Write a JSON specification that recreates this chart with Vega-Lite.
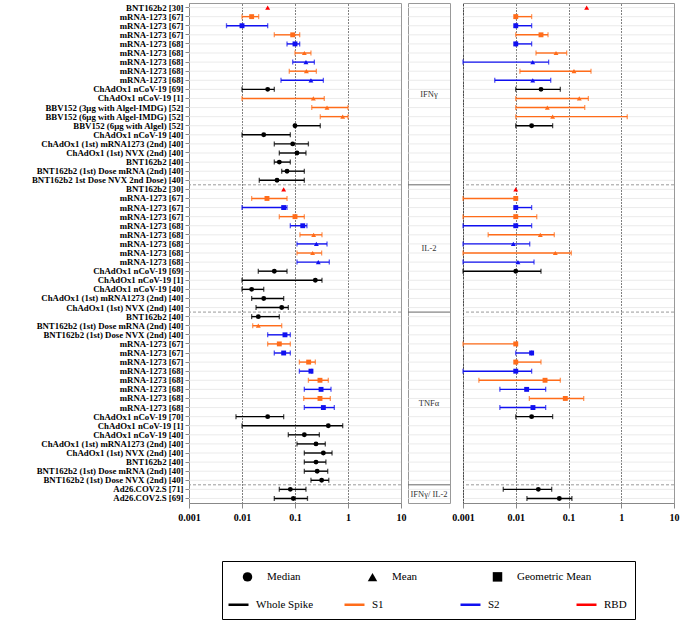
{
"$schema": "https://vega.github.io/schema/vega-lite/v6.json",
"padding": {"left": 2, "top": 2, "right": 0, "bottom": 0},
"background": "white",
"config": {
  "view": {"stroke": "#999"},
  "concat": {"spacing": 0},
  "font": "Liberation Serif",
  "range": {"category": ["#000000", "#FF6C1A", "#1010F0", "#FF0000"], "symbol": ["circle", "triangle-up", "square"]}
},
"datasets": {"d": [
{"k":"01 BNT162b2 [30]","sec":"IFNγ","ag":"RBD","st":"Mean","le":0.0305,"re":0.221},
{"k":"02 mRNA-1273 [67]","sec":"IFNγ","ag":"S1","st":"Geometric Mean","le":0.0152,"ll":0.01,"lh":0.0206,"re":0.01,"rl":0.01,"rh":0.02},
{"k":"03 mRNA-1273 [67]","sec":"IFNγ","ag":"S2","st":"Geometric Mean","le":0.01,"ll":0.0051,"lh":0.0305,"re":0.01,"rl":0.01,"rh":0.02},
{"k":"04 mRNA-1273 [67]","sec":"IFNγ","ag":"S1","st":"Geometric Mean","le":0.0905,"ll":0.0407,"lh":0.1225,"re":0.0301,"rl":0.01,"rh":0.0409},
{"k":"05 mRNA-1273 [68]","sec":"IFNγ","ag":"S2","st":"Geometric Mean","le":0.1,"ll":0.0707,"lh":0.1225,"re":0.01,"rl":0.01,"rh":0.02},
{"k":"06 mRNA-1273 [68]","sec":"IFNγ","ag":"S1","st":"Mean","le":0.15,"ll":0.1,"lh":0.2,"re":0.058,"rl":0.0242,"rh":0.0923},
{"k":"07 mRNA-1273 [68]","sec":"IFNγ","ag":"S2","st":"Mean","le":0.161,"ll":0.0905,"lh":0.232,"re":0.021,"rl":0.001,"rh":0.042},
{"k":"08 mRNA-1273 [68]","sec":"IFNγ","ag":"S1","st":"Mean","le":0.164,"ll":0.078,"lh":0.253,"re":0.127,"rl":0.012,"rh":0.267},
{"k":"09 mRNA-1273 [68]","sec":"IFNγ","ag":"S2","st":"Mean","le":0.2,"ll":0.0544,"lh":0.343,"re":0.021,"rl":0.004,"rh":0.046},
{"k":"10 ChAdOx1 nCoV-19 [69]","sec":"IFNγ","ag":"Whole Spike","st":"Median","le":0.0305,"ll":0.01,"lh":0.0407,"re":0.0301,"rl":0.01,"rh":0.07},
{"k":"11 ChAdOx1 nCoV-19 [1]","sec":"IFNγ","ag":"S1","st":"Mean","le":0.222,"ll":0.01,"lh":0.357,"re":0.16,"rl":0.01,"rh":0.238},
{"k":"12 BBV152 (3µg with Algel-IMDG) [52]","sec":"IFNγ","ag":"S1","st":"Mean","le":0.402,"ll":0.207,"lh":1.0,"re":0.0397,"rl":0.01,"rh":0.203},
{"k":"13 BBV152 (6µg with Algel-IMDG) [52]","sec":"IFNγ","ag":"S1","st":"Mean","le":0.794,"ll":0.3,"lh":1.0,"re":0.05,"rl":0.01,"rh":1.3},
{"k":"14 BBV152 (6µg with Algel) [52]","sec":"IFNγ","ag":"Whole Spike","st":"Median","le":0.1,"ll":0.1,"lh":0.3,"re":0.02,"rl":0.01,"rh":0.05},
{"k":"15 ChAdOx1 nCoV-19 [40]","sec":"IFNγ","ag":"Whole Spike","st":"Median","le":0.0257,"ll":0.01,"lh":0.0816},
{"k":"16 ChAdOx1 (1st) mRNA1273 (2nd) [40]","sec":"IFNγ","ag":"Whole Spike","st":"Median","le":0.0905,"ll":0.0407,"lh":0.179},
{"k":"17 ChAdOx1 (1st) NVX (2nd) [40]","sec":"IFNγ","ag":"Whole Spike","st":"Median","le":0.109,"ll":0.0506,"lh":0.161},
{"k":"18 BNT162b2 [40]","sec":"IFNγ","ag":"Whole Spike","st":"Median","le":0.0506,"ll":0.0407,"lh":0.0816},
{"k":"19 BNT162b2 (1st) Dose mRNA (2nd) [40]","sec":"IFNγ","ag":"Whole Spike","st":"Median","le":0.0707,"ll":0.0561,"lh":0.15},
{"k":"20 BNT162b2 1st Dose NVX 2nd Dose) [40]","sec":"IFNγ","ag":"Whole Spike","st":"Median","le":0.0458,"ll":0.0212,"lh":0.15},
{"k":"21 BNT162b2 [30]","sec":"IL-2","ag":"RBD","st":"Mean","le":0.0611,"re":0.01},
{"k":"22 mRNA-1273 [67]","sec":"IL-2","ag":"S1","st":"Geometric Mean","le":0.0296,"ll":0.0152,"lh":0.0707,"re":0.01,"rl":0.001,"rh":0.01},
{"k":"23 mRNA-1273 [67]","sec":"IL-2","ag":"S2","st":"Geometric Mean","le":0.0611,"ll":0.01,"lh":0.0707,"re":0.01,"rl":0.01,"rh":0.02},
{"k":"24 mRNA-1273 [67]","sec":"IL-2","ag":"S1","st":"Geometric Mean","le":0.1,"ll":0.0506,"lh":0.15,"re":0.01,"rl":0.001,"rh":0.025},
{"k":"25 mRNA-1273 [68]","sec":"IL-2","ag":"S2","st":"Geometric Mean","le":0.14,"ll":0.0816,"lh":0.168,"re":0.01,"rl":0.001,"rh":0.02},
{"k":"26 mRNA-1273 [68]","sec":"IL-2","ag":"S1","st":"Mean","le":0.225,"ll":0.124,"lh":0.323,"re":0.0292,"rl":0.003,"rh":0.0538},
{"k":"27 mRNA-1273 [68]","sec":"IL-2","ag":"S2","st":"Mean","le":0.253,"ll":0.109,"lh":0.402,"re":0.009,"rl":0.001,"rh":0.0184},
{"k":"28 mRNA-1273 [68]","sec":"IL-2","ag":"S1","st":"Mean","le":0.215,"ll":0.109,"lh":0.318,"re":0.0562,"rl":0.001,"rh":0.113},
{"k":"29 mRNA-1273 [68]","sec":"IL-2","ag":"S2","st":"Mean","le":0.275,"ll":0.109,"lh":0.444,"re":0.011,"rl":0.001,"rh":0.0222},
{"k":"30 ChAdOx1 nCoV-19 [69]","sec":"IL-2","ag":"Whole Spike","st":"Median","le":0.0407,"ll":0.0203,"lh":0.0707,"re":0.01,"rl":0.001,"rh":0.0301},
{"k":"31 ChAdOx1 nCoV-19 [1]","sec":"IL-2","ag":"Whole Spike","st":"Median","le":0.242,"ll":0.01,"lh":0.323},
{"k":"32 ChAdOx1 nCoV-19 [40]","sec":"IL-2","ag":"Whole Spike","st":"Median","le":0.0152,"ll":0.01,"lh":0.0257},
{"k":"33 ChAdOx1 (1st) mRNA1273 (2nd) [40]","sec":"IL-2","ag":"Whole Spike","st":"Median","le":0.0257,"ll":0.0152,"lh":0.0611},
{"k":"34 ChAdOx1 (1st) NVX (2nd) [40]","sec":"IL-2","ag":"Whole Spike","st":"Median","le":0.0561,"ll":0.0184,"lh":0.0748},
{"k":"35 BNT162b2 [40]","sec":"TNFα","ag":"Whole Spike","st":"Median","le":0.0203,"ll":0.0152,"lh":0.0506},
{"k":"36 BNT162b2 (1st) Dose mRNA (2nd) [40]","sec":"TNFα","ag":"S1","st":"Mean","le":0.0203,"ll":0.0159,"lh":0.0561},
{"k":"37 BNT162b2 (1st) Dose NVX (2nd) [40]","sec":"TNFα","ag":"S2","st":"Geometric Mean","le":0.0647,"ll":0.0305,"lh":0.0816},
{"k":"38 mRNA-1273 [67]","sec":"TNFα","ag":"S1","st":"Geometric Mean","le":0.0506,"ll":0.0305,"lh":0.0816,"re":0.01,"rl":0.001,"rh":0.0107},
{"k":"39 mRNA-1273 [67]","sec":"TNFα","ag":"S2","st":"Geometric Mean","le":0.0611,"ll":0.0407,"lh":0.0816,"re":0.02,"rl":0.01,"rh":0.02},
{"k":"40 mRNA-1273 [67]","sec":"TNFα","ag":"S1","st":"Geometric Mean","le":0.181,"ll":0.121,"lh":0.242,"re":0.01,"rl":0.01,"rh":0.0301},
{"k":"41 mRNA-1273 [68]","sec":"TNFα","ag":"S2","st":"Geometric Mean","le":0.2,"ll":0.121,"lh":0.207,"re":0.01,"rl":0.001,"rh":0.02},
{"k":"42 mRNA-1273 [68]","sec":"TNFα","ag":"S1","st":"Geometric Mean","le":0.296,"ll":0.179,"lh":0.425,"re":0.0359,"rl":0.002,"rh":0.07},
{"k":"43 mRNA-1273 [68]","sec":"TNFα","ag":"S2","st":"Geometric Mean","le":0.31,"ll":0.15,"lh":0.478,"re":0.0161,"rl":0.005,"rh":0.0369},
{"k":"44 mRNA-1273 [68]","sec":"TNFα","ag":"S1","st":"Geometric Mean","le":0.296,"ll":0.146,"lh":0.464,"re":0.087,"rl":0.0181,"rh":0.194},
{"k":"45 mRNA-1273 [68]","sec":"TNFα","ag":"S2","st":"Geometric Mean","le":0.343,"ll":0.15,"lh":0.552,"re":0.0212,"rl":0.005,"rh":0.0369},
{"k":"46 ChAdOx1 nCoV-19 [70]","sec":"TNFα","ag":"Whole Spike","st":"Median","le":0.0305,"ll":0.0077,"lh":0.0611,"re":0.02,"rl":0.01,"rh":0.05},
{"k":"47 ChAdOx1 nCoV-19 [1]","sec":"TNFα","ag":"Whole Spike","st":"Median","le":0.425,"ll":0.01,"lh":0.794},
{"k":"48 ChAdOx1 nCoV-19 [40]","sec":"TNFα","ag":"Whole Spike","st":"Median","le":0.15,"ll":0.0748,"lh":0.288},
{"k":"49 ChAdOx1 (1st) mRNA1273 (2nd) [40]","sec":"TNFα","ag":"Whole Spike","st":"Median","le":0.249,"ll":0.109,"lh":0.373},
{"k":"50 ChAdOx1 (1st) NVX (2nd) [40]","sec":"TNFα","ag":"Whole Spike","st":"Median","le":0.343,"ll":0.15,"lh":0.5},
{"k":"51 BNT162b2 [40]","sec":"TNFα","ag":"Whole Spike","st":"Median","le":0.249,"ll":0.15,"lh":0.383},
{"k":"52 BNT162b2 (1st) Dose mRNA (2nd) [40]","sec":"TNFα","ag":"Whole Spike","st":"Median","le":0.262,"ll":0.15,"lh":0.414},
{"k":"53 BNT162b2 (1st) Dose NVX (2nd) [40]","sec":"TNFα","ag":"Whole Spike","st":"Median","le":0.318,"ll":0.2,"lh":0.434},
{"k":"54 Ad26.COV2.S [71]","sec":"IFNγ/ IL-2","ag":"Whole Spike","st":"Median","le":0.0816,"ll":0.0506,"lh":0.161,"re":0.0268,"rl":0.0058,"rh":0.048},
{"k":"55 Ad26.COV2.S [69]","sec":"IFNγ/ IL-2","ag":"Whole Spike","st":"Median","le":0.093,"ll":0.0407,"lh":0.172,"re":0.067,"rl":0.0163,"rh":0.116}
]},
"data": {"name": "d"},
"resolve": {"scale": {"color": "independent", "shape": "independent"}, "legend": {"color": "independent", "shape": "independent"}},
"spacing": 37,
"vconcat": [
{
  "spacing": 0,
  "resolve": {"scale": {"color": "independent", "shape": "independent"}, "legend": {"color": "independent", "shape": "independent"}},
  "hconcat": [
  {
    "width": 212, "height": 500,
    "layer": [
      {"mark": {"type": "rule", "color": "#e6e6e6", "strokeWidth": 0.8},
       "encoding": {"y": {"field": "k", "type": "nominal", "sort": "ascending", "scale": {"paddingInner": 0, "paddingOuter": 0},
         "axis": {"title": null, "labelExpr": "substring(datum.label, 3)", "labelFont": "Liberation Serif", "labelFontWeight": "bold", "labelFontSize": 8.8, "labelColor": "black", "tickColor": "#888", "tickSize": 4, "domainColor": "#888", "minExtent": 186, "maxExtent": 186, "labelPadding": 2, "grid": false, "labelLimit": 0}}}},
      {"transform": [{"calculate": "toNumber(substring(datum.k,0,2))", "as": "i"}, {"joinaggregate": [{"op": "min", "field": "i", "as": "mn"}], "groupby": ["sec"]}, {"filter": "datum.i == datum.mn && datum.sec != 'IFNγ'"}],
       "mark": {"type": "rule", "color": "#999", "strokeDash": [3, 2]},
       "encoding": {"y": {"field": "k", "type": "nominal", "sort": "ascending", "bandPosition": 0}}},
      {"transform": [{"filter": "isValid(datum.ll)"}],
       "mark": {"type": "rule", "strokeWidth": 1.4},
       "encoding": {
         "x": {"field": "ll", "type": "quantitative", "scale": {"type": "log", "domain": [0.001, 10], "nice": false},
           "axis": {"title": null, "values": [0.001, 0.01, 0.1, 1, 10], "format": "~g", "labelFont": "Liberation Serif", "labelFontWeight": "bold", "labelFontSize": 10, "labelColor": "black", "tickColor": "#888", "domainColor": "#888", "grid": true, "gridColor": "black", "gridDash": [1, 2], "gridOpacity": {"condition": {"test": "datum.value >= 10 || datum.value <= 0.001", "value": 0}, "value": 1}, "labelFlush": false, "labelPadding": 4}},
         "x2": {"field": "lh"},
         "y": {"field": "k", "type": "nominal", "sort": "ascending"},
         "color": {"field": "ag", "type": "nominal", "scale": {"domain": ["Whole Spike", "S1", "S2", "RBD"]}, "legend": null}}},
      {"transform": [{"filter": "isValid(datum.ll)"}],
       "mark": {"type": "tick", "thickness": 1.3, "size": 5},
       "encoding": {"x": {"field": "ll", "type": "quantitative"}, "y": {"field": "k", "type": "nominal", "sort": "ascending"},
         "color": {"field": "ag", "type": "nominal", "scale": {"domain": ["Whole Spike", "S1", "S2", "RBD"]}, "legend": null}}},
      {"transform": [{"filter": "isValid(datum.lh)"}],
       "mark": {"type": "tick", "thickness": 1.3, "size": 5},
       "encoding": {"x": {"field": "lh", "type": "quantitative"}, "y": {"field": "k", "type": "nominal", "sort": "ascending"},
         "color": {"field": "ag", "type": "nominal", "scale": {"domain": ["Whole Spike", "S1", "S2", "RBD"]}, "legend": null}}},
      {"transform": [{"filter": "isValid(datum.le)"}],
       "mark": {"type": "point", "filled": true, "opacity": 1, "size": 24},
       "encoding": {"x": {"field": "le", "type": "quantitative"}, "y": {"field": "k", "type": "nominal", "sort": "ascending"},
         "color": {"field": "ag", "type": "nominal", "scale": {"domain": ["Whole Spike", "S1", "S2", "RBD"]}, "legend": null},
         "shape": {"field": "st", "type": "nominal", "scale": {"domain": ["Median", "Mean", "Geometric Mean"]}, "legend": null}}}
    ]
  },
  {
    "width": 42, "height": 500,
    "layer": [
      {"mark": {"type": "rule", "color": "#e6e6e6", "strokeWidth": 0.8},
       "encoding": {"y": {"field": "k", "type": "nominal", "sort": "ascending", "scale": {"paddingInner": 0, "paddingOuter": 0}, "axis": null}}},
      {"transform": [{"calculate": "toNumber(substring(datum.k,0,2))", "as": "i"}, {"joinaggregate": [{"op": "min", "field": "i", "as": "mn"}], "groupby": ["sec"]}, {"filter": "datum.i == datum.mn && datum.sec != 'IFNγ'"}],
       "mark": {"type": "rule", "color": "#666", "strokeWidth": 1},
       "encoding": {"y": {"field": "k", "type": "nominal", "sort": "ascending", "bandPosition": 0}}},
      {"transform": [{"calculate": "toNumber(substring(datum.k,0,2))", "as": "i"}, {"joinaggregate": [{"op": "mean", "field": "i", "as": "m"}], "groupby": ["sec"]}, {"filter": "datum.i == floor(datum.m)"}],
       "mark": {"type": "text", "font": "Liberation Serif", "fontSize": 8.5, "color": "#333"},
       "encoding": {"y": {"field": "k", "type": "nominal", "sort": "ascending", "bandPosition": 1}, "text": {"field": "sec"}}}
    ]
  },
  {
    "width": 211, "height": 500,
    "layer": [
      {"mark": {"type": "rule", "color": "#e6e6e6", "strokeWidth": 0.8},
       "encoding": {"y": {"field": "k", "type": "nominal", "sort": "ascending", "scale": {"paddingInner": 0, "paddingOuter": 0}, "axis": null}}},
      {"transform": [{"calculate": "toNumber(substring(datum.k,0,2))", "as": "i"}, {"joinaggregate": [{"op": "min", "field": "i", "as": "mn"}], "groupby": ["sec"]}, {"filter": "datum.i == datum.mn && datum.sec != 'IFNγ'"}],
       "mark": {"type": "rule", "color": "#999", "strokeDash": [3, 2]},
       "encoding": {"y": {"field": "k", "type": "nominal", "sort": "ascending", "bandPosition": 0}}},
      {"transform": [{"filter": "isValid(datum.rl)"}],
       "mark": {"type": "rule", "strokeWidth": 1.4},
       "encoding": {
         "x": {"field": "rl", "type": "quantitative", "scale": {"type": "log", "domain": [0.001, 10], "nice": false},
           "axis": {"title": null, "values": [0.001, 0.01, 0.1, 1, 10], "format": "~g", "labelFont": "Liberation Serif", "labelFontWeight": "bold", "labelFontSize": 10, "labelColor": "black", "tickColor": "#888", "domainColor": "#888", "grid": true, "gridColor": "black", "gridDash": [1, 2], "gridOpacity": {"condition": {"test": "datum.value >= 10", "value": 0}, "value": 1}, "labelFlush": false, "labelPadding": 4}},
         "x2": {"field": "rh"},
         "y": {"field": "k", "type": "nominal", "sort": "ascending"},
         "color": {"field": "ag", "type": "nominal", "scale": {"domain": ["Whole Spike", "S1", "S2", "RBD"]}, "legend": null}}},
      {"transform": [{"filter": "isValid(datum.rl)"}],
       "mark": {"type": "tick", "thickness": 1.3, "size": 5},
       "encoding": {"x": {"field": "rl", "type": "quantitative"}, "y": {"field": "k", "type": "nominal", "sort": "ascending"},
         "color": {"field": "ag", "type": "nominal", "scale": {"domain": ["Whole Spike", "S1", "S2", "RBD"]}, "legend": null}}},
      {"transform": [{"filter": "isValid(datum.rh)"}],
       "mark": {"type": "tick", "thickness": 1.3, "size": 5},
       "encoding": {"x": {"field": "rh", "type": "quantitative"}, "y": {"field": "k", "type": "nominal", "sort": "ascending"},
         "color": {"field": "ag", "type": "nominal", "scale": {"domain": ["Whole Spike", "S1", "S2", "RBD"]}, "legend": null}}},
      {"transform": [{"filter": "isValid(datum.re)"}],
       "mark": {"type": "point", "filled": true, "opacity": 1, "size": 24},
       "encoding": {"x": {"field": "re", "type": "quantitative"}, "y": {"field": "k", "type": "nominal", "sort": "ascending"},
         "color": {"field": "ag", "type": "nominal", "scale": {"domain": ["Whole Spike", "S1", "S2", "RBD"]}, "legend": null},
         "shape": {"field": "st", "type": "nominal", "scale": {"domain": ["Median", "Mean", "Geometric Mean"]}, "legend": null}}}
    ]
  }
  ]
},
{
  "spacing": 0,
  "resolve": {"scale": {"color": "independent", "shape": "independent"}, "legend": {"color": "independent", "shape": "independent"}},
  "hconcat": [
  {"width": 32, "height": 58, "view": {"stroke": null}, "data": {"values": [{"a": 1}]}, "mark": {"type": "point", "opacity": 0}, "encoding": {}},
  {"width": 413, "height": 58, "view": {"stroke": "black"},
   "layer": [
     {"mark": {"type": "point", "filled": true, "opacity": 0, "color": "black"},
      "encoding": {
        "shape": {"field": "st", "type": "nominal", "scale": {"domain": ["Median", "Mean", "Geometric Mean"]},
          "legend": {"title": null, "orient": "none", "legendX": 20, "legendY": 10, "direction": "horizontal", "symbolFillColor": "black", "symbolStrokeColor": "black", "symbolOpacity": 1, "symbolSize": 90, "labelFont": "Liberation Serif", "labelFontSize": 11, "labelColor": "black", "labelOffset": 14, "columnPadding": 22, "gridAlign": "all"}}}},
     {"mark": {"type": "rule", "opacity": 0, "strokeWidth": 2.5},
      "encoding": {
        "color": {"field": "ag", "type": "nominal", "scale": {"domain": ["Whole Spike", "S1", "S2", "RBD"]},
          "legend": {"title": null, "orient": "none", "legendX": 5, "legendY": 32, "direction": "horizontal", "symbolType": "stroke", "symbolStrokeWidth": 2.5, "symbolSize": 400, "symbolOpacity": 1, "labelFont": "Liberation Serif", "labelFontSize": 11, "labelColor": "black", "labelOffset": 6, "columnPadding": 25, "gridAlign": "all"}}}}
   ]}
  ]
}
]
}
